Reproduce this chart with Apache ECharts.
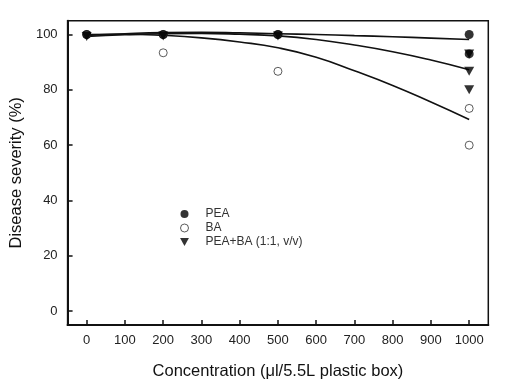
<!DOCTYPE html>
<html>
<head>
<meta charset="utf-8">
<script src="https://cdn.jsdelivr.net/npm/echarts@6/dist/echarts.min.js"></script>
<style>html,body{margin:0;padding:0;background:#fff;}#c{width:512px;height:387px;}</style>
</head>
<body>
<div id="c"></div>
<script>
// Observed points
const peaX = [0, 200, 500, 1000, 1000];
const peaY = [100, 100, 100, 100, 93];
const baX = [0, 200, 200, 500, 500, 1000, 1000];
const baY = [100, 100, 93.4, 100, 86.7, 73.3, 60];
const mixX = [0, 200, 500, 1000, 1000, 1000];
const mixY = [99.3, 99.5, 99.5, 93, 86.7, 80];
// Fitted curves
const fitX = [0, 100, 200, 300, 400, 500, 600, 700, 800, 900, 1000];
const peaFit = [99.7, 100.3, 100.7, 100.8, 100.6, 100.3, 100, 99.6, 99.2, 98.7, 98.2];
const baFit = [100, 100.1, 99.7, 98.8, 97.3, 95.2, 91.8, 86.9, 81.6, 75.6, 69.3];
const mixFit = [99.3, 99.9, 100.3, 100.4, 100.1, 99.5, 98.2, 96.2, 93.8, 90.8, 87.3];
// Ticks
const xTicks = [0, 100, 200, 300, 400, 500, 600, 700, 800, 900, 1000];
const yTicks = [0, 20, 40, 60, 80, 100];
const legendNames = ['PEA', 'BA', 'PEA+BA (1:1, v/v)'];

const tri = 'path://M0,0 L10,0 L5,9 Z';
const zip = (a, b) => a.map((v, i) => [v, b[i]]);
const font = 'Liberation Sans, Arial, sans-serif';

const chart = echarts.init(document.getElementById('c'));
chart.setOption({
  animation: false,
  backgroundColor: '#fff',
  grid: { left: 66.7, top: 20.7, right: 23.7, bottom: 62, show: true, borderColor: '#111', borderWidth: 1.5, backgroundColor: 'transparent' },
  legend: {
    data: [
      { name: legendNames[0], icon: 'circle', itemStyle: { color: '#000' } },
      { name: legendNames[1], icon: 'circle', itemStyle: { color: '#fff', borderColor: '#333', borderWidth: 1 } },
      { name: legendNames[2], icon: tri, itemStyle: { color: '#000' } }
    ],
    orient: 'vertical', left: 175, top: 203, itemGap: 2, itemWidth: 10, itemHeight: 8,
    textStyle: { fontFamily: font, fontSize: 12, color: '#333', padding: [0, 0, 0, 11] }
  },
  xAxis: {
    type: 'value', min: -50, max: 1050,
    name: 'Concentration (μl/5.5L plastic box)', nameLocation: 'middle', nameGap: 38,
    nameTextStyle: { fontFamily: font, fontSize: 16.5, color: '#111' },
    axisLine: { show: true, onZero: false, lineStyle: { color: '#111', width: 2 } },
    axisTick: { show: true, inside: true, length: 5, customValues: xTicks, lineStyle: { color: '#111', width: 1.5 } },
    axisLabel: { customValues: xTicks, margin: 9, fontFamily: font, fontSize: 13, color: '#222', formatter: v => String(v) },
    splitLine: { show: false }
  },
  yAxis: {
    type: 'value', min: -5, max: 105,
    name: 'Disease severity (%)', nameLocation: 'middle', nameGap: 38.5, nameRotate: 90,
    nameTextStyle: { fontFamily: font, fontSize: 16.5, color: '#111' },
    axisLine: { show: true, onZero: false, lineStyle: { color: '#111', width: 2 } },
    axisTick: { show: true, inside: true, length: 5, customValues: yTicks, lineStyle: { color: '#111', width: 1.5 } },
    axisLabel: { customValues: yTicks, margin: 10, fontFamily: font, fontSize: 13, color: '#222', formatter: v => String(v) },
    splitLine: { show: false }
  },
  series: [
    { type: 'line', data: zip(fitX, baFit), smooth: true, showSymbol: false, symbol: 'none', lineStyle: { color: '#111', width: 1.6 }, z: 1, silent: true },
    { type: 'line', data: zip(fitX, mixFit), smooth: true, showSymbol: false, symbol: 'none', lineStyle: { color: '#111', width: 1.6 }, z: 1, silent: true },
    { type: 'line', data: zip(fitX, peaFit), smooth: true, showSymbol: false, symbol: 'none', lineStyle: { color: '#111', width: 1.6 }, z: 1, silent: true },
    { name: legendNames[1], type: 'scatter', data: zip(baX, baY), symbol: 'circle', symbolSize: 8,
      itemStyle: { color: '#fff', borderColor: '#333', borderWidth: 1 }, z: 3 },
    { name: legendNames[2], type: 'scatter', data: zip(mixX, mixY), symbol: tri, symbolSize: [10, 9],
      itemStyle: { color: '#000' }, z: 4 },
    { name: legendNames[0], type: 'scatter', data: zip(peaX, peaY), symbol: 'circle', symbolSize: 9,
      itemStyle: { color: '#000' }, z: 5 }
  ]
});
</script>
</body>
</html>
